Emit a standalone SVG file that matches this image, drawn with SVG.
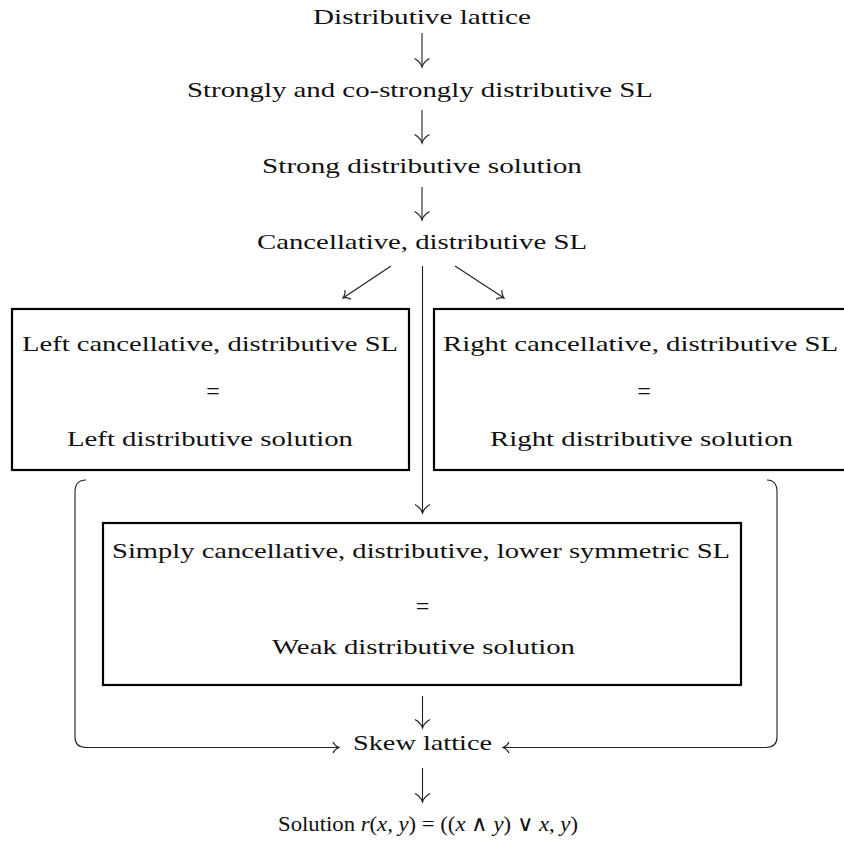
<svg xmlns="http://www.w3.org/2000/svg" width="844" height="842" viewBox="0 0 844 842">
<style>
text{font-family:"Liberation Serif","Times New Roman",serif;font-size:22px;fill:#111;text-anchor:middle}
.box{fill:none;stroke:#000;stroke-width:2.2}
.c{fill:none;stroke:#222;stroke-width:1.1}
.big{marker-end:url(#hb)}
.sm{marker-end:url(#hs)}
.i{font-style:italic}
.eq{font-size:24px}
</style>
<defs>
<marker id="hb" markerUnits="userSpaceOnUse" orient="auto" refX="0" refY="0" markerWidth="20" markerHeight="20" overflow="visible">
<path d="M -8.5,-7.5 C -6,-3 -2,-0.6 0,0 C -2,0.6 -6,3 -8.5,7.5" fill="none" stroke="#222" stroke-width="1.1"/>
</marker>
<marker id="hs" markerUnits="userSpaceOnUse" orient="auto" refX="0" refY="0" markerWidth="20" markerHeight="20" overflow="visible">
<path d="M -6,-5.5 C -4.5,-2.2 -1.5,-0.5 0,0 C -1.5,0.5 -4.5,2.2 -6,5.5" fill="none" stroke="#222" stroke-width="1.1"/>
</marker>
</defs>

<g id="n-distributive-lattice"><text x="422" y="24" textLength="218" lengthAdjust="spacingAndGlyphs">Distributive lattice</text></g>
<g id="n-strongly"><text x="420" y="97" textLength="466" lengthAdjust="spacingAndGlyphs">Strongly and co-strongly distributive SL</text></g>
<g id="n-strong-solution"><text x="422" y="173" textLength="320" lengthAdjust="spacingAndGlyphs">Strong distributive solution</text></g>
<g id="n-cancellative"><text x="422" y="249" textLength="330" lengthAdjust="spacingAndGlyphs">Cancellative, distributive SL</text></g>

<g id="n-left">
<rect class="box" x="12" y="309" width="397" height="161"/>
<text x="210" y="351" textLength="376" lengthAdjust="spacingAndGlyphs">Left cancellative, distributive SL</text>
<text class="eq" x="213" y="399">=</text>
<text x="210" y="446" textLength="286" lengthAdjust="spacingAndGlyphs">Left distributive solution</text>
</g>

<g id="n-right">
<rect class="box" x="434" y="309" width="416" height="161"/>
<text x="640.5" y="351" textLength="395" lengthAdjust="spacingAndGlyphs">Right cancellative, distributive SL</text>
<text class="eq" x="644" y="399">=</text>
<text x="641.5" y="446" textLength="303" lengthAdjust="spacingAndGlyphs">Right distributive solution</text>
</g>

<g id="n-simply">
<rect class="box" x="103" y="523" width="638" height="162"/>
<text x="421" y="558" textLength="618" lengthAdjust="spacingAndGlyphs">Simply cancellative, distributive, lower symmetric SL</text>
<text class="eq" x="422.5" y="614">=</text>
<text x="423.5" y="654" textLength="303" lengthAdjust="spacingAndGlyphs">Weak distributive solution</text>
</g>

<g id="n-skew"><text x="422.5" y="750" textLength="139" lengthAdjust="spacingAndGlyphs">Skew lattice</text></g>

<g id="n-solution"><text x="428" y="831" textLength="300" lengthAdjust="spacingAndGlyphs">Solution <tspan class="i">r</tspan>(<tspan class="i">x</tspan>, <tspan class="i">y</tspan>) = ((<tspan class="i">x</tspan> ∧ <tspan class="i">y</tspan>) ∨ <tspan class="i">x</tspan>, <tspan class="i">y</tspan>)</text></g>

<g id="connectors">
<line class="c big" x1="422" y1="33" x2="422" y2="67"/>
<line class="c big" x1="422" y1="110" x2="422" y2="143"/>
<line class="c big" x1="422" y1="187" x2="422" y2="220"/>
<line class="c sm" x1="391" y1="266" x2="343" y2="298"/>
<line class="c sm" x1="455" y1="266" x2="504" y2="298"/>
<line class="c big" x1="422.5" y1="266" x2="422.5" y2="513"/>
<line class="c big" x1="422.5" y1="696" x2="422.5" y2="728"/>
<line class="c big" x1="422.5" y1="768" x2="422.5" y2="802"/>
<path class="c sm" d="M 86,480 Q 75,480 75,492 L 75,737 Q 75,747.5 86,747.5 L 339,747.5"/>
<path class="c sm" d="M 767,480 Q 777,480 777,492 L 777,737 Q 777,747.5 766,747.5 L 503,747.5"/>
</g>
</svg>
